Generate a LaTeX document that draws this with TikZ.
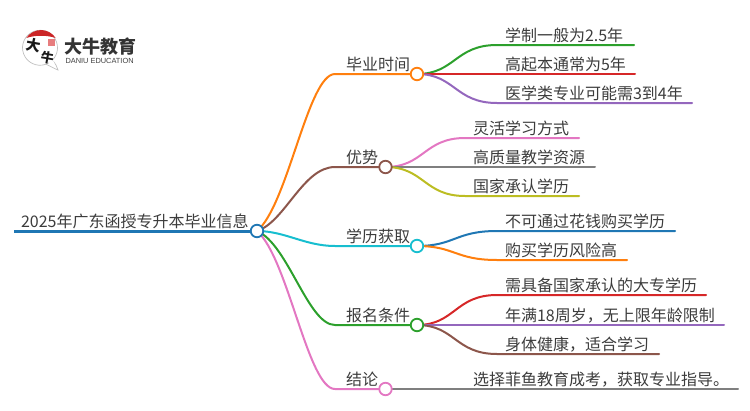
\documentclass[tikz,border=0pt]{standalone}
\usepackage{fontspec}
\setmainfont{Noto Sans CJK SC}
\newfontfamily\latinlogo{Liberation Sans}
\definecolor{cBlue}{HTML}{1F77B4}
\definecolor{cOrange}{HTML}{FF7F0E}
\definecolor{cGreen}{HTML}{2CA02C}
\definecolor{cRed}{HTML}{D62728}
\definecolor{cPurple}{HTML}{9467BD}
\definecolor{cBrown}{HTML}{8C564B}
\definecolor{cPink}{HTML}{E377C2}
\definecolor{cGray}{HTML}{7F7F7F}
\definecolor{cOlive}{HTML}{BCBD22}
\definecolor{cCyan}{HTML}{17BECF}
\definecolor{txt}{HTML}{3C3C3C}
\tikzset{
  lab/.style={anchor=base west,inner sep=0pt,outer sep=0pt,font=\fontsize{16}{16}\selectfont,text=txt},
  dot/.style={circle,draw=#1,fill=white,line width=1.8pt,minimum size=12.5pt,inner sep=0pt},
  wire/.style={line width=2pt,draw=#1,line cap=round},
}
\begin{document}
\begin{tikzpicture}[x=1pt,y=-1pt]
\useasboundingbox (0,0) rectangle (750,410);
% coordinates
\coordinate (rs) at (14,231);
\coordinate (e1) at (335,74);
\coordinate (e2) at (335,167);
\coordinate (e3) at (335,246);
\coordinate (e4) at (335,325);
\coordinate (e5) at (335,389);
\coordinate (a1) at (497,45);\coordinate (a1e) at (634,45);
\coordinate (a2) at (497,74);\coordinate (a2e) at (635,74);
\coordinate (a3) at (497,103);\coordinate (a3e) at (692,103);
\coordinate (b1) at (465,138);\coordinate (b1e) at (579,138);
\coordinate (b2) at (465,167);\coordinate (b2e) at (595,167);
\coordinate (b3) at (465,196);\coordinate (b3e) at (579,196);
\coordinate (c1) at (497,231);\coordinate (c1e) at (675,231);
\coordinate (c2) at (497,260);\coordinate (c2e) at (627,260);
\coordinate (d1) at (497,295);\coordinate (d1e) at (706,295);
\coordinate (d2) at (497,325);\coordinate (d2e) at (724,325);
\coordinate (d3) at (497,354);\coordinate (d3e) at (659,354);
\coordinate (f1) at (465,389);\coordinate (f1e) at (738,389);
\coordinate (R) at (257,231);
\coordinate (N1) at (417,74);
\coordinate (N2) at (385.5,167);
\coordinate (N3) at (417,246);
\coordinate (N4) at (417,325);
\coordinate (N5) at (385.5,389);
\draw[wire=cOrange] (R) .. controls (288,205) and (308,74) .. (e1) -- (N1);
\draw[wire=cBrown] (R) .. controls (285,222) and (303,167) .. (e2) -- (N2);
\draw[wire=cCyan] (R) .. controls (285,231) and (305,246) .. (e3) -- (N3);
\draw[wire=cGreen] (R) .. controls (288,244) and (308,325) .. (e4) -- (N4);
\draw[wire=cPink] (R) .. controls (288,258) and (308,389) .. (e5) -- (N5);
% leaves
\draw[wire=cGreen] (N1) .. controls (455,74) and (455,45) .. (a1) -- (a1e);
\draw[wire=cRed] (N1) -- (a2) -- (a2e);
\draw[wire=cPurple] (N1) .. controls (455,74) and (455,103) .. (a3) -- (a3e);
\draw[wire=cPink] (N2) .. controls (424,167) and (424,138) .. (b1) -- (b1e);
\draw[wire=cGray] (N2) -- (b2) -- (b2e);
\draw[wire=cOlive] (N2) .. controls (424,167) and (424,196) .. (b3) -- (b3e);
\draw[wire=cBlue] (N3) .. controls (455,246) and (455,231) .. (c1) -- (c1e);
\draw[wire=cOrange] (N3) .. controls (455,246) and (455,260) .. (c2) -- (c2e);
\draw[wire=cRed] (N4) .. controls (455,325) and (455,295) .. (d1) -- (d1e);
\draw[wire=cPurple] (N4) -- (d2) -- (d2e);
\draw[wire=cBrown] (N4) .. controls (455,325) and (455,354) .. (d3) -- (d3e);
\draw[wire=cGray] (N5) -- (f1) -- (f1e);
\draw[cBlue,line width=3pt] (rs) -- (R);
% hubs
\node[dot=cBlue] (root) at (R) {};
\node[dot=cOrange] (n1) at (N1) {};
\node[dot=cBrown] (n2) at (N2) {};
\node[dot=cCyan] (n3) at (N3) {};
\node[dot=cGreen] (n4) at (N4) {};
\node[dot=cPink] (n5) at (N5) {};
% labels
\node[lab] (troot) at (21,227.5) {2025年广东函授专升本毕业信息};
\node[lab] (t1) at (346,70) {毕业时间};
\node[lab] (t2) at (346,163) {优势};
\node[lab] (t3) at (346,242) {学历获取};
\node[lab] (t4) at (346,321) {报名条件};
\node[lab] (t5) at (346,385) {结论};
\node[lab] (ta1) at (505,41) {学制一般为2.5年};
\node[lab] (ta2) at (505,70) {高起本通常为5年};
\node[lab] (ta3) at (505,99) {医学类专业可能需3到4年};
\node[lab] (tb1) at (473,134) {灵活学习方式};
\node[lab] (tb2) at (473,163) {高质量教学资源};
\node[lab] (tb3) at (473,192) {国家承认学历};
\node[lab] (tc1) at (505,227) {不可通过花钱购买学历};
\node[lab] (tc2) at (505,256) {购买学历风险高};
\node[lab] (td1) at (505,291) {需具备国家承认的大专学历};
\node[lab] (td2) at (505,321) {年满18周岁，无上限年龄限制};
\node[lab] (td3) at (505,350) {身体健康，适合学习};
\node[lab] (tf1) at (473,385) {选择菲鱼教育成考，获取专业指导。};
% logo
\draw[black!25,fill=white,line width=.7pt] (52.5,60.5) .. controls (56,64) and (57,67) .. (58,70) .. controls (54,68.5) and (50,66) .. (46,64.2);
\draw[black!25,line width=.7pt] (46,64.2) arc (70:-320:17.5 and 17.5);
\fill[white] (47,58) -- (53,60) -- (55,65) -- (49,63.8) -- cycle;
\fill[cRed!95!black] (26.3,38) arc (213:327:17.5) .. controls (47,35) and (35,35) .. (26.3,38) -- cycle;
\node[inner sep=0pt,text=black!90,rotate=-10] (lg1) at (33.5,45.5) {\fontsize{14.5}{15}\selectfont\bfseries 大};
\node[inner sep=0pt,text=black!90,rotate=-10] (lg2) at (47.5,58) {\fontsize{13}{13}\selectfont\bfseries 牛};
\fill[cRed!60!white] (48,39) rectangle (55,46);
\node[lab,font=\fontsize{18}{18}\selectfont\bfseries,text=black!80] (lg3) at (64,53.5) {大牛教育};
\node[lab,font=\latinlogo\fontsize{7.4}{8}\selectfont,text=black!75] (lg4) at (65.5,63) {DANIU EDUCATION};
\end{tikzpicture}
\end{document}
